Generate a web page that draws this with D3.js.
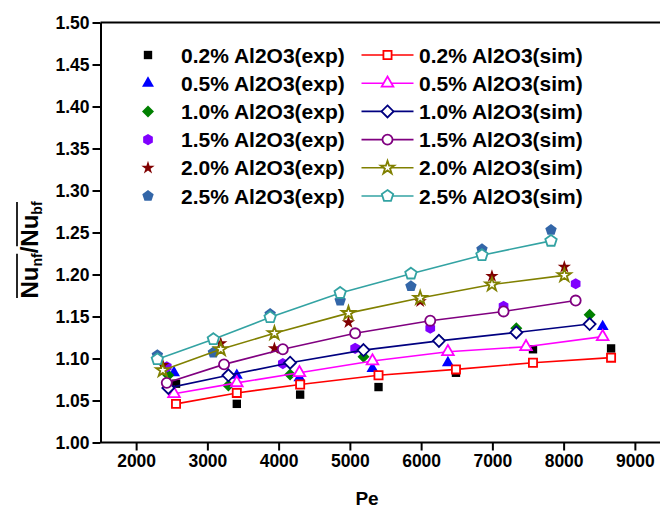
<!DOCTYPE html>
<html>
<head>
<meta charset="utf-8">
<script src="https://cdn.jsdelivr.net/npm/d3@7"></script>
<style>
body{margin:0;background:#fff;}
text{font-family:"Liberation Sans",Arial,sans-serif;font-weight:bold;}
</style>
</head>
<body>
<div id="chart"></div>
<script>
// Pe values, one array per concentration (exp and sim share them)
var pe02 = [2560, 3413, 4302, 5402, 6489, 7570, 8666];
var pe05 = [2532, 3413, 4292, 5317, 6376, 7472, 8548];
var pe10 = [2452, 3295, 4161, 5191, 6250, 7336, 8365];
var pe15 = [2430, 3234, 4059, 5074, 6128, 7157, 8169];
var pe20 = [2374, 3188, 3941, 4980, 5987, 6994, 8010];
var pe25 = [2298, 3084, 3881, 4864, 5857, 6854, 7823];

// experimental Nu ratio
var exp02 = [1.070, 1.046, 1.057, 1.066, 1.083, 1.111, 1.112];
var exp05 = [1.083, 1.080, 1.077, 1.088, 1.095, 1.114, 1.138];
var exp10 = [1.080, 1.068, 1.081, 1.102, 1.122, 1.136, 1.152];
var exp15 = [1.090, 1.093, 1.094, 1.112, 1.136, 1.162, 1.189];
var exp20 = [1.092, 1.118, 1.112, 1.143, 1.168, 1.198, 1.209];
var exp25 = [1.104, 1.107, 1.153, 1.169, 1.186, 1.230, 1.253];

// simulated Nu ratio
var sim02 = [1.046, 1.059, 1.069, 1.080, 1.087, 1.095, 1.101];
var sim05 = [1.058, 1.071, 1.083, 1.097, 1.108, 1.114, 1.126];
var sim10 = [1.065, 1.080, 1.095, 1.110, 1.121, 1.131, 1.141];
var sim15 = [1.071, 1.093, 1.111, 1.130, 1.145, 1.156, 1.169];
var sim20 = [1.086, 1.111, 1.130, 1.154, 1.172, 1.188, 1.199];
var sim25 = [1.099, 1.123, 1.149, 1.178, 1.201, 1.223, 1.240];

var labels = ["0.2%", "0.5%", "1.0%", "1.5%", "2.0%", "2.5%"];
var xTicks = [2000, 3000, 4000, 5000, 6000, 7000, 8000, 9000];
var yTicks = [1.00, 1.05, 1.10, 1.15, 1.20, 1.25, 1.30, 1.35, 1.40, 1.45, 1.50];

var series = [
    {pe: pe02, exp: exp02, sim: sim02, ec: "#000000", sc: "#ff0000", shape: "square"},
    {pe: pe05, exp: exp05, sim: sim05, ec: "#0000ff", sc: "#ff00ff", shape: "triangle"},
    {pe: pe10, exp: exp10, sim: sim10, ec: "#008000", sc: "#000080", shape: "diamond"},
    {pe: pe15, exp: exp15, sim: sim15, ec: "#8000ff", sc: "#800080", shape: "hexagon"},
    {pe: pe20, exp: exp20, sim: sim20, ec: "#800000", sc: "#808000", shape: "star"},
    {pe: pe25, exp: exp25, sim: sim25, ec: "#3366a8", sc: "#33a3a3", shape: "pentagon"}
];

var width = 660, height = 510;
var x = d3.scaleLinear().domain([1500, 9500]).range([100.5, 670.5]);
var y = d3.scaleLinear().domain([1.0, 1.5]).range([442.5, 22.5]);

var svg = d3.select("#chart").append("svg")
    .attr("width", width).attr("height", height);

// regular polygon, point up
function polygon(n, r){
    var pts = [];
    for(var i=0;i<n;i++){
        var a = -Math.PI/2 + i*2*Math.PI/n;
        pts.push([r*Math.cos(a), r*Math.sin(a)]);
    }
    return "M" + pts.join("L") + "Z";
}

function markerPath(shape, filled){
    var s = filled ? 1 : 0.95;
    if(shape == "square") return d3.symbol(d3.symbolSquare, 70*s)();
    if(shape == "triangle") return d3.symbol(d3.symbolTriangle, 62*s)();
    if(shape == "diamond") return "M0,-6L6,0L0,6L-6,0Z";
    if(shape == "hexagon") return filled ? polygon(6, 5.6) : d3.symbol(d3.symbolCircle, 80)();
    if(shape == "star") return d3.symbol(d3.symbolStar, 55)();
    if(shape == "pentagon") return polygon(5, 6);
}

// frame: top line
svg.append("line")
    .attr("x1", 100.5).attr("x2", width).attr("y1", 22.5).attr("y2", 22.5)
    .attr("stroke", "#000").attr("stroke-width", 2);

// axes
var xAxis = svg.append("g")
    .attr("transform", "translate(0,442.5)")
    .call(d3.axisBottom(x).tickValues(xTicks).tickFormat(d3.format("d")).tickSize(8).tickSizeOuter(0).tickPadding(4));
var yAxis = svg.append("g")
    .attr("transform", "translate(100.5,0)")
    .call(d3.axisLeft(y).tickValues(yTicks).tickFormat(d3.format(".2f")).tickSize(8).tickSizeOuter(0).tickPadding(3));

[xAxis, yAxis].forEach(function(g){
    g.select(".domain").attr("stroke-width", 2);
    g.selectAll(".tick line").attr("stroke-width", 2);
    g.selectAll(".tick text").attr("font-size", 17.5).attr("fill", "#000")
        .attr("font-family", "Liberation Sans, Arial, sans-serif").attr("font-weight", "bold");
});
xAxis.select(".domain").attr("d", "M100.5,0H" + width);

// axis titles
svg.append("text")
    .attr("x", 367).attr("y", 505)
    .attr("text-anchor", "middle")
    .attr("font-size", 19)
    .text("Pe");

// y title: Nu_nf / Nu_bf with overlines, built piece by piece
var yl = svg.append("g").attr("transform", "translate(38,0) rotate(-90)");
var parts = [
    {t: "Nu", fs: 24, dy: 0, bar: 1},
    {t: "nf", fs: 14, dy: 4, bar: 1},
    {t: "/", fs: 24, dy: 0, bar: 0},
    {t: "Nu", fs: 24, dy: 0, bar: 2},
    {t: "bf", fs: 14, dy: 4, bar: 2}
];
var cx = 0, barSpan = {};
parts.forEach(function(p){
    var t = yl.append("text").attr("x", cx).attr("y", p.dy)
        .attr("font-size", p.fs).text(p.t);
    var w = t.node().getComputedTextLength();
    if(p.bar){
        if(!barSpan[p.bar]) barSpan[p.bar] = [cx, cx + w];
        else barSpan[p.bar][1] = cx + w;
    }
    cx += w;
});
// centre the title along the axis
var shift = -250 - cx/2;
yl.selectAll("text").attr("x", function(){ return +d3.select(this).attr("x") + shift; });
[1, 2].forEach(function(k){
    yl.append("line")
        .attr("x1", barSpan[k][0] + shift + 0.5).attr("x2", barSpan[k][1] + shift - 0.5)
        .attr("y1", -21).attr("y2", -21)
        .attr("stroke", "#000").attr("stroke-width", 1.7);
});

// experimental points
series.forEach(function(s){
    svg.append("g").selectAll("path")
        .data(s.pe.map(function(p, i){ return [p, s.exp[i]]; }))
        .enter().append("path")
        .attr("d", markerPath(s.shape, true))
        .attr("transform", function(d){ return "translate(" + x(d[0]) + "," + y(d[1]) + ")"; })
        .attr("fill", s.ec);
});

// simulation lines + open markers
var line = d3.line().x(function(d){ return x(d[0]); }).y(function(d){ return y(d[1]); });
series.forEach(function(s){
    var pts = s.pe.map(function(p, i){ return [p, s.sim[i]]; });
    svg.append("path").datum(pts)
        .attr("d", line)
        .attr("fill", "none").attr("stroke", s.sc).attr("stroke-width", 1.6);
    svg.append("g").selectAll("path")
        .data(pts)
        .enter().append("path")
        .attr("d", markerPath(s.shape, false))
        .attr("transform", function(d){ return "translate(" + x(d[0]) + "," + y(d[1]) + ")"; })
        .attr("fill", "#fff").attr("stroke", s.sc).attr("stroke-width", 1.8);
});

// legend
var leg = svg.append("g");
series.forEach(function(s, i){
    var cy = 55 + i*28.2;
    leg.append("path").attr("d", markerPath(s.shape, true))
        .attr("transform", "translate(148," + cy + ")").attr("fill", s.ec);
    leg.append("text").attr("x", 181).attr("y", cy + 7.5)
        .attr("font-size", 21).text(labels[i] + " Al2O3(exp)");
    leg.append("line").attr("x1", 361.5).attr("x2", 413.5).attr("y1", cy).attr("y2", cy)
        .attr("stroke", s.sc).attr("stroke-width", 1.6);
    leg.append("path").attr("d", markerPath(s.shape, false))
        .attr("transform", "translate(387.5," + cy + ")")
        .attr("fill", "#fff").attr("stroke", s.sc).attr("stroke-width", 1.8);
    leg.append("text").attr("x", 419).attr("y", cy + 7.5)
        .attr("font-size", 21).text(labels[i] + " Al2O3(sim)");
});
</script>
</body>
</html>
